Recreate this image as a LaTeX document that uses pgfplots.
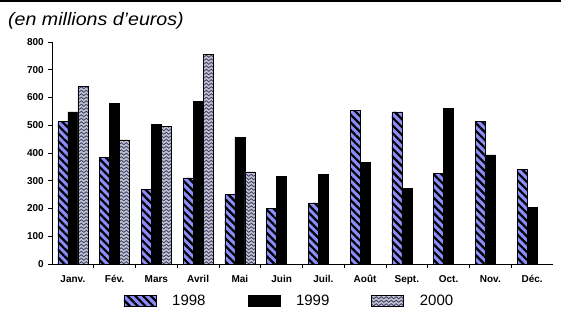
\documentclass[border=0pt]{standalone}
\usepackage{pgfplots}
\pgfplotsset{compat=1.18}
\usepackage{fontspec}
\setmainfont{Liberation Sans}
\usetikzlibrary{patterns.meta}
\definecolor{c98}{RGB}{140,140,250}
\definecolor{c00}{RGB}{195,195,205}
\definecolor{w00}{RGB}{60,60,110}
\pgfdeclarepattern{
  name=mywaves,
  type=uncolored,
  bottom left={\pgfpoint{-0.1bp}{-0.1bp}},
  top right={\pgfpoint{5.1bp}{3.6bp}},
  tile size={\pgfpoint{5bp}{3.5bp}},
  code={
    \pgfsetlinewidth{0.8bp}
    \pgfpathmoveto{\pgfpoint{0bp}{1.75bp}}
    \pgfpathcurveto{\pgfpoint{1.25bp}{3.2bp}}{\pgfpoint{1.25bp}{3.2bp}}{\pgfpoint{2.5bp}{1.75bp}}
    \pgfpathcurveto{\pgfpoint{3.75bp}{0.3bp}}{\pgfpoint{3.75bp}{0.3bp}}{\pgfpoint{5bp}{1.75bp}}
    \pgfusepath{stroke}
  }
}
\pgfplotstableread{
x y
0 515
1 385
2 268
3 310
4 250
5 200
6 220
7 553
8 548
9 327
10 515
11 342
}\tA
\pgfplotstableread{
x y
0 548
1 580
2 502
3 585
4 455
5 315
6 322
7 365
8 272
9 562
10 393
11 205
}\tB
\pgfplotstableread{
x y
0 640
1 447
2 497
3 755
4 332
}\tC
\begin{document}
\begin{tikzpicture}
\useasboundingbox (0,0) rectangle (561bp,-324bp);
\fill[white] (0,0) rectangle (561bp,-324bp);
\draw[line width=1.5bp] (0,-1bp) -- (561bp,-1bp);
\node[anchor=north west, inner sep=0pt] at (8bp,-12bp) {\scalebox{1.09}[1]{\fontsize{18bp}{20bp}\selectfont\itshape (en millions d’euros)}};
\begin{axis}[
  at={(52bp,-264bp)}, anchor=south west,
  scale only axis, width=501bp, height=222bp,
  ybar=0pt, bar width=10bp,
  xmin=-0.5, xmax=11.5, ymin=0, ymax=800,
  axis lines*=left,
  axis line style={black, line width=0.8bp},
  xtick={0,...,11},
  xticklabels={Janv.,Fév.,Mars,Avril,Mai,Juin,Juil.,Août,Sept.,Oct.,Nov.,Déc.},
  major x tick style={draw=none},
  minor xtick={0.5,1.5,...,10.5},
  ytick={0,100,...,800},
  tick align=outside,
  major tick length=3.5bp, minor tick length=3.5bp,
  tick style={black, line width=0.8bp},
  /pgf/number format/assume math mode=true,
  ticklabel style={font=\bfseries\fontsize{10bp}{11bp}\selectfont},
  yticklabel style={inner sep=0pt, anchor=east, xshift=-4.5bp},
  xticklabel style={inner sep=0pt, anchor=north, yshift=-7.5bp},
  legend columns=3,
  legend style={at={(axis description cs:0.474,-0.165)}, anchor=center, draw=none,
    font=\fontsize{15bp}{16bp}\selectfont,
    /tikz/every odd column/.style={column sep=14bp},
    /tikz/every even column/.style={column sep=40bp}},
  legend image code/.code={\draw[#1] (0bp,-5.5bp) rectangle (32bp,5.5bp);},
]
\addplot[draw=black, line width=0.5bp, fill=c98, postaction={pattern={Lines[angle=-45,distance=5.5bp,line width=2.2bp]}, pattern color=black}] table[x=x,y=y]{\tA};
\addplot[draw=black, line width=0.5bp, fill=black] table[x=x,y=y]{\tB};
\addplot[draw=black, line width=0.5bp, fill=c00, postaction={pattern=mywaves, pattern color=w00}] table[x=x,y=y]{\tC};
\legend{1998,1999,2000}
\end{axis}
\end{tikzpicture}
\end{document}
